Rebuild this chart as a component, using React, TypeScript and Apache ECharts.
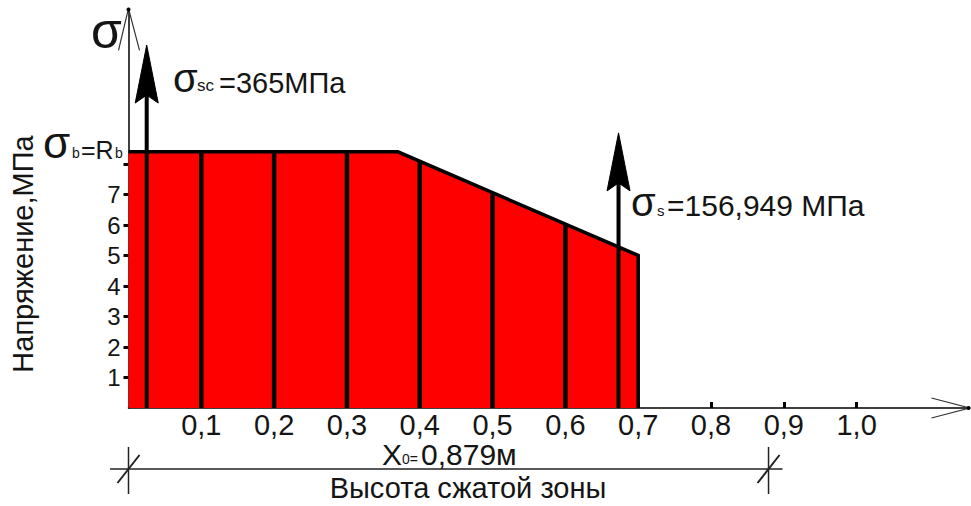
import React, { useEffect, useRef } from 'react';
import * as echarts from 'echarts';

// ---- data ----
const xTickValues = [0.1, 0.2, 0.3, 0.4, 0.5, 0.6, 0.7, 0.8, 0.9, 1.0];
const yTickValues = [1, 2, 3, 4, 5, 6, 7, 8];
const yLabelValues = [1, 2, 3, 4, 5, 6, 7];
// stress profile of the compressed zone (x in m, stress in axis units)
const profileX = [0, 0, 0.37, 0.7, 0.7];
const profileY = [0, 8.4, 8.4, 5.0, 0];
// internal ordinates
const stripX = [0.1, 0.2, 0.3, 0.4, 0.5, 0.6];
const stripTop = [8.4, 8.4, 8.4, 8.08, 7.05, 6.02];
// reinforcement stress arrows (σsc, σs)
const arrowX = [0.025, 0.673];
const arrowTop = [11.9, 9.02];
// compressed zone height dimension
const dimensionX = [0, 0.879];
const dimensionLevel = -2.0;
const axisMaxX = 1.155;
const axisMaxY = 13.1;

const FONT = 'Liberation Sans, Arial, sans-serif';
const TXT = '#151515';

function text(t: string, x: number, y: number, size: number, extra: any = {}) {
  return {
    type: 'text',
    x,
    y,
    rotation: extra.rotation || 0,
    style: {
      text: t,
      x: 0,
      y: 0,
      fontSize: size,
      fontFamily: FONT,
      fill: TXT,
      align: extra.align || 'left',
      verticalAlign: 'middle',
      textAlign: extra.align || 'left',
      textVerticalAlign: 'middle',
    },
  };
}

export default function App() {
  const ref = useRef<HTMLDivElement>(null);
  useEffect(() => {
    if (!ref.current) return;
    const chart = echarts.init(ref.current, null, { renderer: 'svg' });
    const option: any = {
      animation: false,
      backgroundColor: '#ffffff',
      grid: { left: 128.5, right: 1.5, top: 8.45, bottom: 98, containLabel: false },
      xAxis: {
        type: 'value',
        min: 0,
        max: axisMaxX,
        axisLine: { show: true, onZero: false, lineStyle: { color: '#000', width: 1.5 } },
        axisTick: { show: true, inside: true, length: 6, customValues: xTickValues, lineStyle: { color: '#000', width: 3 } },
        axisLabel: {
          customValues: xTickValues,
          formatter: (v: number) => v.toFixed(1).replace('.', ','),
          fontSize: 29,
          fontFamily: FONT,
          color: TXT,
          margin: 2,
        },
        splitLine: { show: false },
      },
      yAxis: {
        type: 'value',
        min: 0,
        max: axisMaxY,
        axisLine: { show: true, onZero: false, lineStyle: { color: '#000', width: 1.5 } },
        axisTick: { show: true, inside: false, length: 5, customValues: yTickValues, lineStyle: { color: '#000', width: 3 } },
        axisLabel: {
          customValues: yLabelValues,
          fontSize: 24,
          fontFamily: FONT,
          color: TXT,
          margin: 8,
        },
        splitLine: { show: false },
      },
      series: [
        {
          type: 'custom',
          clip: false,
          silent: true,
          data: [[0, 0]],
          renderItem: (_p: any, api: any) => {
            const pts = profileX.map((x, i) => api.coord([x, profileY[i]]));
            const children: any[] = [];
            children.push({ type: 'polygon', shape: { points: pts }, style: { fill: '#ff0000', stroke: 'none' } });
            stripX.forEach((x, i) => {
              const a = api.coord([x, 0]);
              const b = api.coord([x, stripTop[i]]);
              children.push({ type: 'line', shape: { x1: a[0], y1: a[1], x2: b[0], y2: b[1] }, style: { stroke: '#000', lineWidth: 4.5 } });
            });
            children.push({ type: 'polyline', shape: { points: pts.slice(1) }, style: { stroke: '#000', lineWidth: 3.5, fill: 'none', lineJoin: 'miter' } });
            // arrows
            arrowX.forEach((x, i) => {
              const a = api.coord([x, 0]);
              const t = api.coord([x, arrowTop[i]]);
              children.push({ type: 'line', shape: { x1: a[0], y1: a[1], x2: t[0], y2: t[1] + 10 }, style: { stroke: '#000', lineWidth: 4 } });
              children.push({
                type: 'polygon',
                shape: { points: [[t[0], t[1]], [t[0] + 11.5, t[1] + 58], [t[0], t[1] + 50], [t[0] - 11.5, t[1] + 58]] },
                style: { fill: '#000', stroke: '#000', lineWidth: 1 },
              });
            });
            // axis arrow chevrons
            const xe = api.coord([axisMaxX, 0]);
            children.push({ type: 'polyline', shape: { points: [[xe[0] - 38, xe[1] - 10], [xe[0], xe[1]], [xe[0] - 38, xe[1] + 10]] }, style: { stroke: '#333', lineWidth: 1.2, fill: 'none' } });
            children.push({ type: 'circle', shape: { cx: xe[0] - 1, cy: xe[1], r: 2 }, style: { fill: '#000' } });
            const ye = api.coord([0, axisMaxY]);
            children.push({ type: 'polyline', shape: { points: [[ye[0] - 10, ye[1] + 42], [ye[0], ye[1]], [ye[0] + 11, ye[1] + 42]] }, style: { stroke: '#333', lineWidth: 1.2, fill: 'none' } });
            children.push({ type: 'circle', shape: { cx: ye[0], cy: ye[1] + 1, r: 2 }, style: { fill: '#000' } });
            // dimension line
            const d0 = api.coord([dimensionX[0], dimensionLevel]);
            const d1 = api.coord([dimensionX[1], dimensionLevel]);
            children.push({ type: 'line', shape: { x1: d0[0] - 18.5, y1: d0[1], x2: d1[0] + 14, y2: d1[1] }, style: { stroke: '#222', lineWidth: 1.5 } });
            [d0, d1].forEach((d) => {
              children.push({ type: 'line', shape: { x1: d[0], y1: d[1] - 22, x2: d[0], y2: d[1] + 25 }, style: { stroke: '#222', lineWidth: 1.5 } });
              children.push({ type: 'line', shape: { x1: d[0] - 11, y1: d[1] + 14, x2: d[0] + 11, y2: d[1] - 14 }, style: { stroke: '#222', lineWidth: 2 } });
            });
            return { type: 'group', children };
          },
        },
      ],
      graphic: [
        text('σ', 91, 31, 50),
        text('σ', 173, 77.5, 40),
        text('sc', 197, 85.5, 17),
        text('=365МПа', 219, 82.5, 29),
        text('σ', 43, 142, 44),
        text('b', 72, 152.5, 14),
        text('=R', 81, 149.5, 25),
        text('b', 115, 152.5, 14),
        text('σ', 631, 201.6, 40),
        text('s', 657, 210, 15),
        text('=156,949 МПа', 667, 205, 30),
        text('X', 382, 454, 30),
        text('0=', 402, 459, 14),
        text('0,879м', 421, 454, 30),
        text('Высота сжатой зоны', 468, 487.5, 29, { align: 'center' }),
        text('Напряжение,МПа', 23, 254, 29, { align: 'center', rotation: Math.PI / 2 }),
      ],
    };
    chart.setOption(option);
    return () => chart.dispose();
  }, []);
  return <div ref={ref} style={{ position: 'absolute', left: 0, top: 0, width: 971, height: 506 }} />;
}
